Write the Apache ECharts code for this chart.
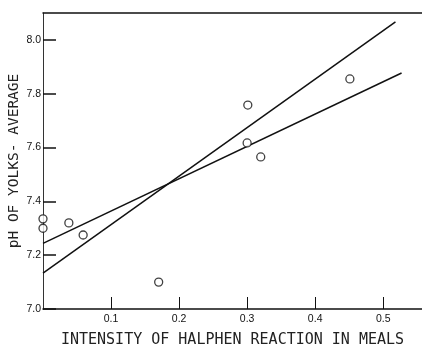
<!DOCTYPE html>
<html>
<head>
<meta charset="utf-8">
<script src="https://cdn.jsdelivr.net/npm/echarts@6/dist/echarts.min.js"></script>
<style>
  html, body { margin: 0; padding: 0; background: #fff; }
  #main { width: 422px; height: 350px; }
</style>
</head>
<body>
<div id="main"></div>
<script>
// observed points: halphen intensity vs yolk pH
var halphen = [0.0, 0.0, 0.038, 0.059, 0.170, 0.300, 0.301, 0.320, 0.451];
var yolkPH = [7.335, 7.30, 7.32, 7.275, 7.10, 7.617, 7.758, 7.565, 7.855];

// two fitted lines, end points
var steepX = [0.0, 0.518];
var steepY = [7.133, 8.067];
var flatX = [0.0, 0.527];
var flatY = [7.244, 7.877];

var xTicks = [0.1, 0.2, 0.3, 0.4, 0.5];
var yTicks = [7.0, 7.2, 7.4, 7.6, 7.8, 8.0];

function pairs(xs, ys) {
  return xs.map(function (x, i) { return [x, ys[i]]; });
}

var chartDom = document.getElementById("main");
var myChart = echarts.init(chartDom);
var lbl = { color: "#111", fontFamily: "Liberation Sans", fontSize: 10.5 };
var ttl = { color: "#222", fontFamily: "DejaVu Sans Mono" };

var option = {
  animation: false,
  grid: {
    left: 43, right: 0, top: 13, bottom: 41,
    containLabel: false,
    outerBoundsMode: "none",
  },
  xAxis: [
    {
      type: "value",
      min: 0,
      max: 0.557,
      name: "INTENSITY OF HALPHEN REACTION IN MEALS",
      nameLocation: "middle",
      nameGap: 24,
      nameMoveOverlap: false,
      nameTextStyle: Object.assign({ fontSize: 15 }, ttl),
      axisLine: { lineStyle: { color: "#111", width: 1.5 } },
      axisTick: {
        inside: true,
        length: 12,
        customValues: xTicks,
        lineStyle: { color: "#111", width: 1 },
      },
      axisLabel: Object.assign({ margin: 5, customValues: xTicks }, lbl),
      splitLine: { show: false },
    },
    {
      // top border
      type: "value",
      position: "top",
      min: 0,
      max: 0.557,
      axisLine: { lineStyle: { color: "#111", width: 1.5 } },
      axisTick: { show: false },
      axisLabel: { show: false },
      splitLine: { show: false },
    },
  ],
  yAxis: {
    type: "value",
    min: 7.0,
    max: 8.1,
    name: "pH OF YOLKS- AVERAGE",
    nameLocation: "middle",
    nameGap: 21,
    nameMoveOverlap: false,
    nameTextStyle: Object.assign({ fontSize: 14.5 }, ttl),
    axisLine: { lineStyle: { color: "#333", width: 1 } },
    axisTick: {
      inside: true,
      length: 13,
      customValues: yTicks,
      lineStyle: { color: "#111", width: 1.5 },
    },
    axisLabel: Object.assign({
      margin: 2,
      customValues: yTicks,
      formatter: function (v) { return v.toFixed(1); },
    }, lbl),
    splitLine: { show: false },
  },
  series: [
    {
      type: "line",
      data: pairs(steepX, steepY),
      symbol: "none",
      lineStyle: { color: "#111", width: 1.5 },
      z: 2,
    },
    {
      type: "line",
      data: pairs(flatX, flatY),
      symbol: "none",
      lineStyle: { color: "#111", width: 1.5 },
      z: 2,
    },
    {
      type: "scatter",
      data: pairs(halphen, yolkPH),
      symbol: "circle",
      symbolSize: 8,
      itemStyle: { color: "#fff", borderColor: "#111", borderWidth: 1.3 },
      z: 3,
    },
  ],
};

myChart.setOption(option);
</script>
</body>
</html>
